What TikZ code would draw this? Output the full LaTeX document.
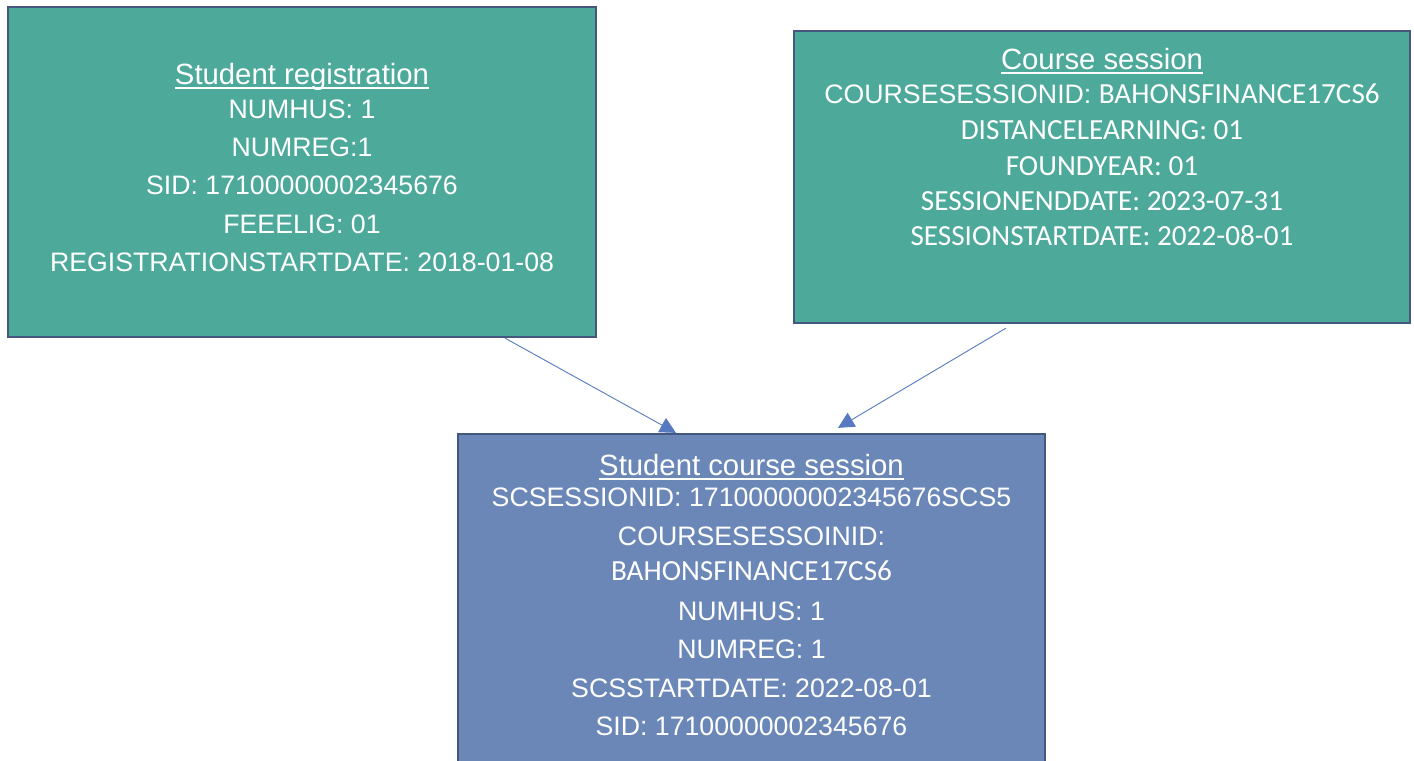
\documentclass[tikz,border=0pt]{standalone}
\usepackage{fontspec}
\setmainfont{Liberation Sans}
\newfontfamily\carl{Carlito}
\usetikzlibrary{arrows.meta}
\definecolor{tealfill}{HTML}{4DA99A}
\definecolor{bluefill}{HTML}{6A87B8}
\definecolor{bordercol}{HTML}{44577F}
\definecolor{arrowcol}{HTML}{5679BF}
\newcommand\myul[1]{\setbox0=\hbox{#1}\rlap{\rule[-5bp]{\wd0}{2bp}}\box0}
\tikzset{
  boxshape/.style={draw=bordercol, line width=2.25bp, inner sep=0pt, rectangle},
  txt/.style={anchor=base, inner sep=0pt, text=white, font=\fontsize{26.7bp}{30bp}\selectfont},
  ttl/.style={anchor=base, inner sep=0pt, text=white, font=\fontsize{29.3bp}{33bp}\selectfont},
  ctxt/.style={anchor=base, inner sep=0pt, text=white, font=\carl\fontsize{29.2bp}{33bp}\selectfont},
  conn/.style={draw=arrowcol, line width=0.9bp, -{Triangle[length=16bp,width=16bp,fill=arrowcol]}}
}
\begin{document}
\begin{tikzpicture}[x=1bp,y=-1bp]
\useasboundingbox (0,0) rectangle (1414,760);
\clip (0,0) rectangle (1414,760);
% boxes
\node[boxshape, fill=tealfill, minimum width=588bp, minimum height=330bp] (reg) at (302,172) {};
\node[boxshape, fill=tealfill, minimum width=616bp, minimum height=292bp] (cs) at (1102,177) {};
\node[boxshape, fill=bluefill, minimum width=587bp, minimum height=356bp] (scs) at (751.5,612) {};
% Student registration
\node[ttl] (r0) at (302,84.3) {\myul{Student registration}};
\node[txt] (r1) at (302,118.3) {NUMHUS: 1};
\node[txt] (r2) at (302,156.6) {NUMREG:1};
\node[txt] (r3) at (302,194.9) {SID: 17100000002345676};
\node[txt] (r4) at (302,233.2) {FEEELIG: 01};
\node[txt] (r5) at (302,271.5) {REGISTRATIONSTARTDATE: 2018-01-08};
% Course session
\node[ttl] (c0) at (1102,69.3) {\myul{Course session}};
\node[txt] (c1) at (1102,103.3) {COURSESESSIONID: {\carl\fontsize{29.2bp}{33bp}\selectfont BAHONSFINANCE17CS6}};
\node[ctxt] (c2) at (1102,139.5) {DISTANCELEARNING: 01};
\node[ctxt] (c3) at (1102,175.3) {FOUNDYEAR: 01};
\node[ctxt] (c4) at (1102,210.8) {SESSIONENDDATE: 2023-07-31};
\node[ctxt] (c5) at (1102,245.7) {SESSIONSTARTDATE: 2022-08-01};
% Student course session
\node[ttl] (s0) at (751.5,475) {\myul{Student course session}};
\node[txt] (s1) at (751.5,506) {SCSESSIONID: 17100000002345676SCS5};
\node[txt] (s2) at (751.5,545.5) {COURSESESSOINID:};
\node[ctxt] (s3) at (751.5,580) {BAHONSFINANCE17CS6};
\node[txt] (s4) at (751.5,620) {NUMHUS: 1};
\node[txt] (s5) at (751.5,658.5) {NUMREG: 1};
\node[txt] (s6) at (751.5,697) {SCSSTARTDATE: 2022-08-01};
\node[txt] (s7) at (751.5,735.5) {SID: 17100000002345676};
% connectors
\draw[conn] ([xshift=203bp]reg.south) -- ([xshift=-75.5bp]scs.north);
\draw[conn] ([xshift=-96bp,yshift=-4bp]cs.south) -- ([xshift=86.5bp,yshift=5bp]scs.north);
\end{tikzpicture}
\end{document}
